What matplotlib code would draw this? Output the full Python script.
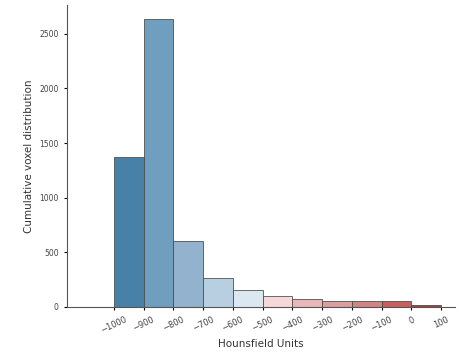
import matplotlib
matplotlib.use("Agg")
import matplotlib.pyplot as plt
import numpy as np

# bin left edges (HU) and voxel counts per bin
edges = [-1000, -900, -800, -700, -600, -500, -400, -300, -200, -100, 0]
counts = [1370, 2635, 605, 268, 156, 100, 70, 58, 55, 58, 15]
colors = ["#3d7aa2", "#6799bc", "#8daecb", "#b4cde0", "#dbe7f0",
          "#f6d6d7", "#e8b3b3", "#dc9999", "#d07c7c", "#c55656", "#a63333"]
tick_vals = [-1000, -900, -800, -700, -600, -500, -400, -300, -200, -100, 0, 100]

fig = plt.figure(figsize=(4.62, 3.52), dpi=100)
ax = fig.add_axes([0.145, 0.128, 0.84, 0.858])

ax.bar(edges, counts, width=100, align="edge", color=colors,
       edgecolor="#4a4a4a", linewidth=0.6, alpha=0.95)

ax.set_xlim(-1158, 147)
ax.set_ylim(0, 2765)
ax.set_xticks(tick_vals)
ax.set_xticklabels([str(v).replace("-", "\u2212") for v in tick_vals],
                   rotation=25, fontsize=6, color="#444444")
ax.set_yticks([0, 500, 1000, 1500, 2000, 2500])
ax.tick_params(axis="y", labelsize=5.5, labelcolor="#444444", length=2.5)
ax.tick_params(axis="x", length=2.5)
ax.spines["top"].set_visible(False)
ax.spines["right"].set_visible(False)
for s in ("left", "bottom"):
    ax.spines[s].set_color("#555555")
    ax.spines[s].set_linewidth(0.8)

ax.set_xlabel("Hounsfield Units", fontsize=7.5, color="#333333", labelpad=3)
ax.set_ylabel("Cumulative voxel distribution", fontsize=7.5, color="#333333")

fig.savefig("out.png", dpi=100)
